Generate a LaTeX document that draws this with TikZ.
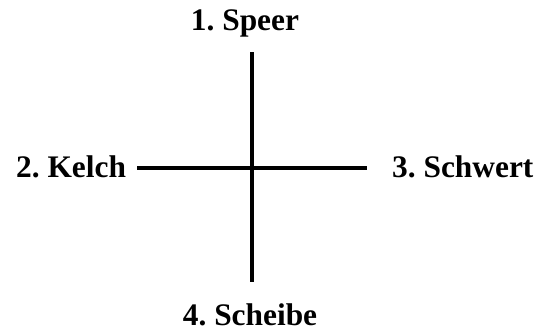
\documentclass[tikz,border=0pt]{standalone}
\usepackage{fontspec}
\setmainfont{Liberation Serif}
\usetikzlibrary{positioning}
\frenchspacing

\begin{document}
\begin{tikzpicture}[x=1bp,y=1bp,font=\bfseries\fontsize{31.5}{36}\selectfont]
  \tikzset{arm/.style={line width=3.2bp},
           suit/.style={inner sep=0pt}}
  \useasboundingbox (0,0) rectangle (543,331);

  % cross ends
  \coordinate (top) at (252,279);
  \coordinate (bottom) at (252,49);
  \coordinate (left) at (137,163);
  \coordinate (right) at (367,163);

  % the four suits
  \node[suit,anchor=base] (speer) at (245,301) {1. Speer};
  \node[suit,anchor=base west] (kelch) at (16,154) {2. Kelch};
  \node[suit,anchor=base west] (schwert) at (392,154) {3. Schwert};
  \node[suit,anchor=base] (scheibe) at (250,6) {4. Scheibe};

  \draw[arm] (top) -- (bottom);
  \draw[arm] (left) -- (right);
\end{tikzpicture}
\end{document}
